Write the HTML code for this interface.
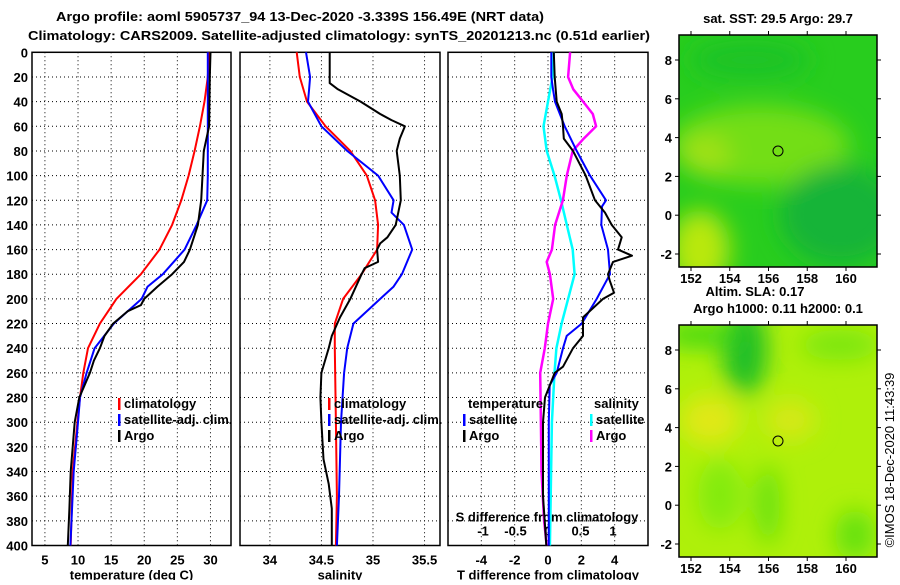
<!DOCTYPE html>
<html><head><meta charset="utf-8"><style>
html,body{margin:0;padding:0;background:#fff;}
svg text{font-family:"Liberation Sans",sans-serif;font-weight:bold;font-size:13px;fill:#000;}
</style></head><body>
<svg id="c" width="900" height="580" xmlns="http://www.w3.org/2000/svg">
<defs>
<filter id="bl" x="-20%" y="-20%" width="140%" height="140%"><feGaussianBlur stdDeviation="12"/></filter>
<clipPath id="cm1"><rect x="679" y="35" width="198" height="232"/></clipPath>
<clipPath id="cm2"><rect x="679" y="325" width="198" height="232"/></clipPath>
</defs>
<text x="56" y="21" font-size="14" textLength="488" lengthAdjust="spacingAndGlyphs">Argo profile: aoml 5905737_94 13-Dec-2020 -3.339S 156.49E (NRT data)</text>
<text x="28" y="40" font-size="14" textLength="622" lengthAdjust="spacingAndGlyphs">Climatology: CARS2009. Satellite-adjusted climatology: synTS_20201213.nc (0.51d earlier)</text>
<g id="g"></g>
<!-- maps -->
<g clip-path="url(#cm1)">
<rect x="679" y="35" width="198" height="232" fill="rgb(40,205,30)"/>
<g filter="url(#bl)">
<ellipse cx="760" cy="145" rx="90" ry="40" fill="rgb(115,222,25)"/>
<ellipse cx="705" cy="155" rx="25" ry="20" fill="rgb(160,225,20)"/>
<ellipse cx="700" cy="250" rx="30" ry="40" fill="rgb(185,232,15)"/>
<ellipse cx="840" cy="215" rx="60" ry="50" fill="rgb(20,180,55)"/>
<ellipse cx="750" cy="60" rx="60" ry="20" fill="rgb(30,195,40)"/>
</g>
</g>
<rect x="679" y="35" width="198" height="232" fill="none" stroke="#000" stroke-width="1.5"/>
<g clip-path="url(#cm2)">
<rect x="679" y="325" width="198" height="232" fill="rgb(175,240,10)"/>
<g filter="url(#bl)">
<ellipse cx="745" cy="350" rx="22" ry="45" fill="rgb(30,190,40)"/>
<ellipse cx="700" cy="335" rx="40" ry="12" fill="rgb(60,215,20)"/>
<ellipse cx="710" cy="420" rx="30" ry="25" fill="rgb(225,232,20)"/>
<ellipse cx="790" cy="420" rx="25" ry="20" fill="rgb(215,232,20)"/>
<ellipse cx="720" cy="495" rx="22" ry="35" fill="rgb(130,235,15)"/>
<ellipse cx="768" cy="505" rx="12" ry="40" fill="rgb(100,225,15)"/>
<ellipse cx="855" cy="535" rx="20" ry="25" fill="rgb(100,225,15)"/>
<ellipse cx="840" cy="345" rx="40" ry="15" fill="rgb(120,230,15)"/>
</g>
</g>
<rect x="679" y="325" width="198" height="232" fill="none" stroke="#000" stroke-width="1.5"/>
<circle cx="778" cy="151" r="5" fill="none" stroke="#000"/>
<circle cx="778" cy="441" r="5" fill="none" stroke="#000"/>
<text x="778" y="23" text-anchor="middle" font-size="12">sat. SST: 29.5 Argo: 29.7</text>
<text x="755" y="296" text-anchor="middle" font-size="12">Altim. SLA: 0.17</text>
<text x="778" y="313" text-anchor="middle" font-size="12">Argo h1000: 0.11 h2000: 0.1</text>
<text transform="translate(894,460) rotate(-90)" text-anchor="middle" font-size="12" style="font-weight:normal">©IMOS 18-Dec-2020 11:43:39</text>
</svg>
<script>
// ---------- data ----------
const depthTicks=[0,20,40,60,80,100,120,140,160,180,200,220,240,260,280,300,320,340,360,380,400];
const tempTicks=[5,10,15,20,25,30];
const salTicks=[34,34.5,35,35.5];
const salTickLabels=["34","34.5","35","35.5"];
const tdiffTicks=[-4,-2,0,2,4];
const sdiffTicks=[-1,-0.5,0,0.5,1];
const sdiffTickLabels=["-1","-0.5","0","0.5","1"];

const tClimDepth=[0,20,40,60,80,100,120,140,160,180,200,220,240,260,280,300,340,400];
const tClim=[29.8,29.6,29.1,28.4,27.6,26.7,25.6,24.2,22.3,19.5,15.8,13.3,11.5,10.8,10.3,9.9,9.2,8.9];
const tSatDepth=[0,60,100,120,140,160,180,190,200,210,220,240,260,280,300,340,400];
const tSat=[29.6,29.6,29.6,29.5,27.9,26.1,22.8,20.5,19.6,17.5,15.4,12.5,11.3,10.3,10.0,9.35,8.85];
const tArgoDepth=[0,20,60,80,120,140,160,170,180,190,200,205,210,220,230,240,250,260,270,280,300,320,340,370,400];
const tArgo=[30.0,29.9,29.8,29.0,28.6,28.1,26.9,26.0,24.2,22.0,20.0,19.5,17.5,15.3,14.0,13.3,12.4,11.8,11.0,10.2,9.5,9.2,8.9,8.7,8.45];

const sClimDepth=[0,20,40,60,80,100,120,140,160,180,200,220,240,300,360,400];
const sClim=[34.26,34.29,34.36,34.54,34.78,34.94,35.02,35.05,35.04,34.89,34.71,34.63,34.63,34.64,34.65,34.64];
const sSatDepth=[0,20,30,40,60,80,100,120,130,140,160,180,190,200,220,240,260,300,360,400];
const sSat=[34.35,34.39,34.38,34.37,34.5,34.75,35.05,35.2,35.18,35.3,35.38,35.28,35.2,35.07,34.81,34.75,34.72,34.69,34.67,34.65];
const sArgoDepth=[0,20,25,30,40,50,55,60,70,80,100,120,140,150,155,160,170,175,180,200,215,230,240,260,280,300,330,350,370,400];
const sArgo=[34.58,34.58,34.58,34.66,34.88,35.07,35.18,35.31,35.26,35.23,35.26,35.27,35.22,35.14,35.07,35.04,35.05,34.92,34.89,34.78,34.68,34.6,34.57,34.5,34.49,34.5,34.52,34.57,34.6,34.6];

const dTSatDepth=[0,20,30,40,60,80,100,120,125,140,160,180,200,220,230,240,260,270,300,400];
const dTSat=[0.2,0.2,0.3,0.42,1.0,1.72,2.52,3.48,3.24,3.2,3.6,3.72,2.92,2.02,1.12,0.9,0.52,0.1,0.05,0.05];
const dTArgoDepth=[0,20,40,50,60,70,80,100,120,130,140,150,160,165,170,180,185,195,200,215,230,240,255,260,280,300,340,360,380,400];
const dTArgo=[0.35,0.4,0.52,0.82,0.9,0.95,1.5,2.26,2.82,3.42,3.82,4.42,4.2,5.04,3.9,3.6,3.7,3.96,3.3,2.1,2.1,1.5,0.9,0.4,-0.18,-0.3,-0.3,-0.3,-0.2,-0.1];
const dSSatDepth=[0,20,40,60,80,100,120,140,160,180,200,220,240,260,300,400];
const dSSat=[0.09,0.07,0,-0.07,-0.02,0.1,0.2,0.29,0.38,0.41,0.31,0.21,0.13,0.1,0.06,0.03];
const dSArgoDepth=[0,20,30,40,50,60,70,80,100,120,140,160,170,180,200,220,240,260,300,340,380,400];
const dSArgo=[0.34,0.31,0.39,0.54,0.69,0.74,0.55,0.38,0.29,0.23,0.11,0.06,-0.02,0.03,0.08,0,-0.05,-0.12,-0.11,-0.1,-0.06,-0.02];

const mapLonTicks=[152,154,156,158,160];
const mapLatTicks=[-2,0,2,4,6,8];

// ---------- scales ----------
const Y0=52.3, YK=1.233;
const yD=d=>Y0+d*YK;
const P1={x0:32,x1:231,v0:3.05,v1:33.1};
const P2={x0:240,x1:440,v0:33.71,v1:35.65};
const P3={x0:448,x1:648,v0:-6,v1:6};
const P3S={x0:448,x1:648,v0:-1.5385,v1:1.5385};
const sx=(P,v)=>P.x0+(v-P.v0)/(P.v1-P.v0)*(P.x1-P.x0);

const NS="http://www.w3.org/2000/svg";
const g=document.getElementById('g');
function mk(tag,attrs,parent){const e=document.createElementNS(NS,tag);for(const k in attrs)e.setAttribute(k,attrs[k]);(parent||g).appendChild(e);return e;}
function txt(x,y,s,anchor,extra){const t=mk('text',Object.assign({x:x,y:y,'text-anchor':anchor||'middle'},extra||{}));t.textContent=s;return t;}

function panel(P,name,xt,xl,title){
  const grp=mk('g',{});
  
  
  depthTicks.forEach(d=>{if(d>0&&d<400){const l=mk('line',{x1:P.x0,x2:P.x1,y1:yD(d),y2:yD(d),stroke:'#000','stroke-dasharray':'1,3'},grp);}});
  xt.forEach((v,i)=>{const x=sx(P,v);const l=mk('line',{x1:x,x2:x,y1:yD(0),y2:yD(400),stroke:'#000','stroke-dasharray':'1,3'},grp);
    const t=txt(x,yD(400)+19,xl[i]);});
  const r=mk('rect',{x:P.x0,y:yD(0),width:P.x1-P.x0,height:yD(400)-yD(0),fill:'none',stroke:'#000','stroke-width':1.5},grp);
  
  const t=txt((P.x0+P.x1)/2,yD(400)+34,title);
}
panel(P1,'temperature-panel',tempTicks,tempTicks.map(String),'temperature (deg C)');
panel(P2,'salinity-panel',salTicks,salTickLabels,'salinity');
panel(P3,'difference-panel',tdiffTicks,tdiffTicks.map(String),'T difference from climatology');
depthTicks.forEach(d=>{const t=txt(28,yD(d)+5,String(d),'end');});
sdiffTicks.forEach((v,i)=>{const t=txt(sx(P3S,v),yD(400)-10,sdiffTickLabels[i]);});
{const t=txt(547,yD(400)-24,'S difference from climatology');}

function line(P,ds,vs,col,name,w){
  const d=ds.map((dd,i)=>(i?'L':'M')+sx(P,vs[i]).toFixed(1)+','+yD(dd).toFixed(1)).join('');
  const p=mk('path',{d:d,fill:'none',stroke:col,'stroke-width':w||2,'stroke-linejoin':'round'});
  
}
line(P1,tClimDepth,tClim,'#f00','temp-climatology-line');
line(P1,tSatDepth,tSat,'#00f','temp-satellite-line');
line(P1,tArgoDepth,tArgo,'#000','temp-argo-line');
line(P2,sClimDepth,sClim,'#f00','sal-climatology-line');
line(P2,sSatDepth,sSat,'#00f','sal-satellite-line');
line(P2,sArgoDepth,sArgo,'#000','sal-argo-line');
line(P3S,dSSatDepth,dSSat,'#0ff','sdiff-satellite-line',2.5);
line(P3S,dSArgoDepth,dSArgo,'#f0f','sdiff-argo-line',2.5);
line(P3,dTSatDepth,dTSat,'#00f','tdiff-satellite-line');
line(P3,dTArgoDepth,dTArgo,'#000','tdiff-argo-line');

function leg(x,y,col,s){
  const r=mk('rect',{x:x,y:y-10,width:2.5,height:12,fill:col});
  const t=txt(x+6,y,s,'start');
}
leg(118,408,'#f00','climatology');leg(118,424,'#00f','satellite-adj. clim.');leg(118,440,'#000','Argo');
leg(328,408,'#f00','climatology');leg(328,424,'#00f','satellite-adj. clim.');leg(328,440,'#000','Argo');
{const t=txt(468,408,'temperature','start');}
{const t=txt(594,408,'salinity','start');}
leg(463,424,'#00f','satellite');leg(463,440,'#000','Argo');
leg(590,424,'#0ff','satellite');leg(590,440,'#f0f','Argo');

// map axes
const lonX=v=>691+(v-152)*19.375;
[[60,254,283],[350,544,573]].forEach(([y8,ym2,ylab],mi)=>{
  const latY=v=>y8+(8-v)*(ym2-y8)/10;
  const top=mi?325:35, bot=mi?557:267;
  mapLonTicks.forEach(v=>{const x=lonX(v);mk('line',{x1:x,x2:x,y1:top-4,y2:top,stroke:'#000'});mk('line',{x1:x,x2:x,y1:bot,y2:bot+4,stroke:'#000'});
    const t=txt(x,ylab,String(v));});
  mapLatTicks.forEach(v=>{const y=latY(v);mk('line',{x1:675,x2:679,y1:y,y2:y,stroke:'#000'});mk('line',{x1:877,x2:881,y1:y,y2:y,stroke:'#000'});
    const t=txt(672,y+5,String(v),'end');});
});
</script>
</body></html>
